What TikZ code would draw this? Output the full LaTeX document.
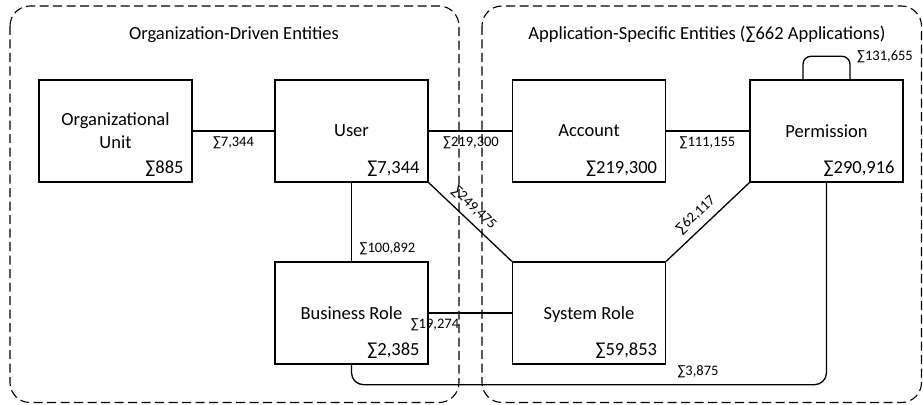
\documentclass[tikz,border=0pt]{standalone}
\usepackage{fontspec}
\setmainfont{Carlito}
\usetikzlibrary{calc}
\begin{document}
\begin{tikzpicture}[x=1pt,y=-1pt,
  box/.style={draw, line width=1.4pt, minimum width=153pt, minimum height=102pt, inner sep=0pt, text depth=0pt, font=\fontsize{18.5}{23}\selectfont, align=center},
  cnt/.style={anchor=base east, inner sep=0pt, font=\fontsize{18.5}{22}\selectfont},
  lbl/.style={anchor=base, inner sep=0pt, font=\fontsize{14.5}{17}\selectfont},
  slbl/.style={inner sep=0pt, font=\fontsize{14.5}{17}\selectfont},
  conn/.style={line width=1.3pt},
  group/.style={draw, dash pattern=on 9pt off 4.5pt, line width=1.1pt, rounded corners=20pt},
  ttl/.style={anchor=base, inner sep=0pt, font=\fontsize{18.5}{22}\selectfont}]
\useasboundingbox (0,0) rectangle (923,404);
\draw[group] (10,6) rectangle (459,402.5);
\draw[group] (482,6) rectangle (921.5,402.5);
\node[ttl] (t1) at (234,39.3) {Organization-Driven Entities};
\node[ttl] (t2) at (707,39.3) {Application-Specific Entities (∑662 Applications)};

\node[box] (ou) at (115.5,131) {Organizational\\Unit};
\node[box] (user) at (351.5,131) {User};
\node[box] (br) at (351.5,313) {Business Role};
\node[box] (acc) at (589,131) {Account};
\node[box] (perm) at (826.5,131) {Permission};
\node[box] (sr) at (589,313) {System Role};

\node[cnt] (ouc) at ($(ou.south east)+(-9,-9.7)$) {∑885};
\node[cnt] (userc) at ($(user.south east)+(-9,-9.7)$) {∑7,344};
\node[cnt] (brc) at ($(br.south east)+(-9,-9.7)$) {∑2,385};
\node[cnt] (accc) at ($(acc.south east)+(-9,-9.7)$) {∑219,300};
\node[cnt] (permc) at ($(perm.south east)+(-9,-9.7)$) {∑290,916};
\node[cnt] (src) at ($(sr.south east)+(-9,-9.7)$) {∑59,853};

\draw[conn] (ou.east) -- (user.west);
\draw[conn] (user.east) -- (acc.west);
\draw[conn] (acc.east) -- (perm.west);
\draw[conn] (user.south) -- (br.north);
\draw[conn] (user.south east) -- (sr.north west);
\draw[conn] (perm.south west) -- (sr.north east);
\draw[conn] (br.east) -- (sr.west);
\draw[conn, rounded corners=12pt] (br.south) -- ++(0,20) -| (perm.south);
\draw[conn, rounded corners=8pt] ($(perm.north)+(-23.5,0)$) -- ++(0,-23) -- ++(47,0) -- ++(0,23);

\node[lbl] (l1) at (233.5,146) {∑7,344};
\node[lbl] (l2) at (471,146.5) {∑219,300};
\node[lbl] (l3) at (707.5,146.5) {∑111,155};
\node[lbl] (l4) at (387.5,252) {∑100,892};
\node[lbl] (l5) at (435,328) {∑19,274};
\node[lbl] (l6) at (698,375.5) {∑3,875};
\node[lbl] (l7) at (885,60.5) {∑131,655};
\node[slbl, rotate=-43.6] (l8) at (474,208) {∑249,475};
\node[slbl, rotate=43.6] (l9) at (696,215) {∑62,117};
\end{tikzpicture}
\end{document}
